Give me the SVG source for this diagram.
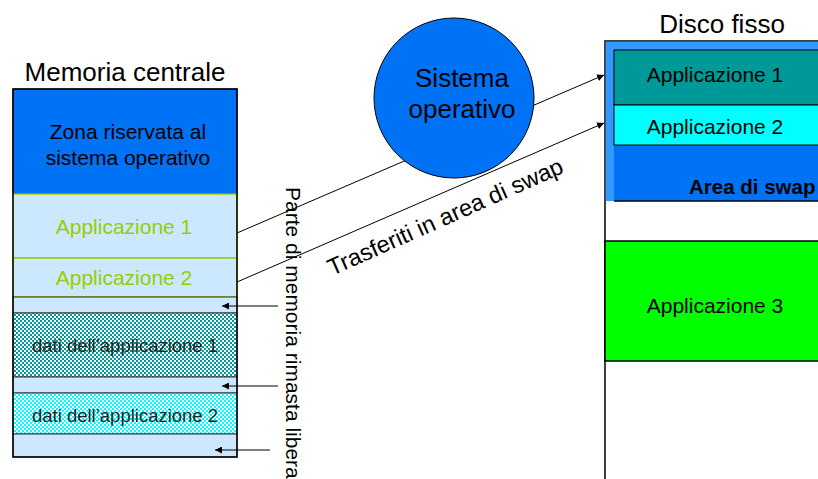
<svg xmlns="http://www.w3.org/2000/svg" width="818" height="479" viewBox="0 0 818 479">
  <style>
    text { font-family: "Liberation Sans", Arial, sans-serif; fill: #000; }
    .title { font-size: 26px; }
    .lbl { font-size: 21px; }
    .data { font-size: 18.5px; fill: #222; }
    .app { font-size: 21px; fill: #99CC00; }
    .free { fill: #CCE8FF; stroke: #333; stroke-width: 1; }
    .conn { stroke: #000; stroke-width: 1; fill: none; }
  </style>
  <defs>
    <pattern id="chkTeal" width="4" height="4" patternUnits="userSpaceOnUse">
      <rect width="4" height="4" fill="#fff"/>
      <rect width="2" height="2" fill="#009999"/>
      <rect x="2" y="2" width="2" height="2" fill="#009999"/>
    </pattern>
    <pattern id="chkCyan" width="4" height="4" patternUnits="userSpaceOnUse">
      <rect width="4" height="4" fill="#fff"/>
      <rect width="2" height="2" fill="#00FFFF"/>
      <rect x="2" y="2" width="2" height="2" fill="#00FFFF"/>
    </pattern>
    <marker id="arrow" viewBox="0 0 10 10" refX="10" refY="5" markerWidth="7" markerHeight="7" orient="auto" markerUnits="userSpaceOnUse">
      <path d="M0,0 L10,5 L0,10 z" fill="#000"/>
    </marker>
  </defs>

  <!-- main memory column -->
  <g id="memoria">
    <text class="title" x="125" y="81" text-anchor="middle">Memoria centrale</text>
    <rect x="13" y="89" width="224" height="105" fill="#0072F5" stroke="#000" stroke-width="1"/>
    <text class="lbl" x="128" y="139" text-anchor="middle">Zona riservata al</text>
    <text class="lbl" x="128" y="165" text-anchor="middle">sistema operativo</text>
  </g>
  <g id="mem-app1">
    <rect x="13" y="194" width="224" height="64" fill="#CCE8FF" stroke="#99CC00" stroke-width="1.5"/>
    <text class="app" x="124" y="234" text-anchor="middle">Applicazione 1</text>
  </g>
  <g id="mem-app2">
    <rect x="13" y="258" width="224" height="39" fill="#CCE8FF" stroke="#99CC00" stroke-width="1.5"/>
    <text class="app" x="124" y="285" text-anchor="middle">Applicazione 2</text>
  </g>
  <g id="mem-free1"><rect class="free" x="13" y="297" width="224" height="16"/></g>
  <g id="mem-dati1">
    <rect x="13" y="313" width="224" height="64" fill="url(#chkTeal)" stroke="#333" stroke-width="1"/>
    <text class="data" x="125" y="352" text-anchor="middle">dati dell’applicazione 1</text>
  </g>
  <g id="mem-free2"><rect class="free" x="13" y="377" width="224" height="16"/></g>
  <g id="mem-dati2">
    <rect x="13" y="393" width="224" height="41" fill="url(#chkCyan)" stroke="#333" stroke-width="1"/>
    <text class="data" x="125" y="422" text-anchor="middle">dati dell’applicazione 2</text>
  </g>
  <g id="mem-free3"><rect class="free" x="13" y="434" width="224" height="23"/></g>
  <rect x="13" y="89" width="224" height="368" fill="none" stroke="#000" stroke-width="1.5"/>

  <!-- hard disk column -->
  <g id="disco">
    <text class="title" x="722" y="33" text-anchor="middle">Disco fisso</text>
    <rect x="605" y="41" width="260" height="460" fill="#fff" stroke="#000" stroke-width="1.5"/>
    <rect x="605.75" y="41.75" width="260" height="159.25" fill="#3399FF"/>
    <rect x="614" y="50" width="250" height="151" fill="#0072F5"/>
    <line x1="614" y1="201" x2="818" y2="201" stroke="#000" stroke-width="1.5"/>
    <text x="689" y="194" style="font-size:20.5px;font-weight:bold">Area di swap</text>
  </g>
  <g id="disco-app1">
    <rect x="614" y="50" width="250" height="55" fill="#009999" stroke="#000" stroke-width="1"/>
    <text class="lbl" x="715" y="82" text-anchor="middle">Applicazione 1</text>
  </g>
  <g id="disco-app2">
    <rect x="614" y="105" width="250" height="40" fill="#00FFFF" stroke="#000" stroke-width="1"/>
    <text class="lbl" x="715" y="134" text-anchor="middle">Applicazione 2</text>
  </g>
  <g id="disco-app3">
    <rect x="605" y="241" width="260" height="120" fill="#00FF00" stroke="#000" stroke-width="1.5"/>
    <text class="lbl" x="715" y="313" text-anchor="middle">Applicazione 3</text>
  </g>

  <!-- connectors -->
  <g id="connectors">
    <line class="conn" x1="237" y1="233" x2="604" y2="75" marker-end="url(#arrow)"/>
    <line class="conn" x1="237" y1="282" x2="604" y2="123" marker-end="url(#arrow)"/>
    <line class="conn" x1="278" y1="306" x2="222" y2="306" marker-end="url(#arrow)"/>
    <line class="conn" x1="278" y1="386" x2="222" y2="386" marker-end="url(#arrow)"/>
    <line class="conn" x1="270" y1="450" x2="215" y2="450" marker-end="url(#arrow)"/>
  </g>

  <!-- operating system -->
  <g id="sistema">
    <circle cx="454" cy="98" r="80" fill="#0072F5" stroke="#000" stroke-width="1"/>
    <text class="title" x="462" y="87" text-anchor="middle">Sistema</text>
    <text class="title" x="462" y="118" text-anchor="middle">operativo</text>
  </g>

  <!-- labels -->
  <g id="label-swap">
    <text x="0" y="0" style="font-size:23.5px" transform="translate(332,276) rotate(-24)">Trasferiti in area di swap</text>
  </g>
  <g id="label-libera">
    <text x="0" y="0" style="font-size:21px" transform="translate(286,187) rotate(90)">Parte di memoria rimasta libera</text>
  </g>
</svg>
